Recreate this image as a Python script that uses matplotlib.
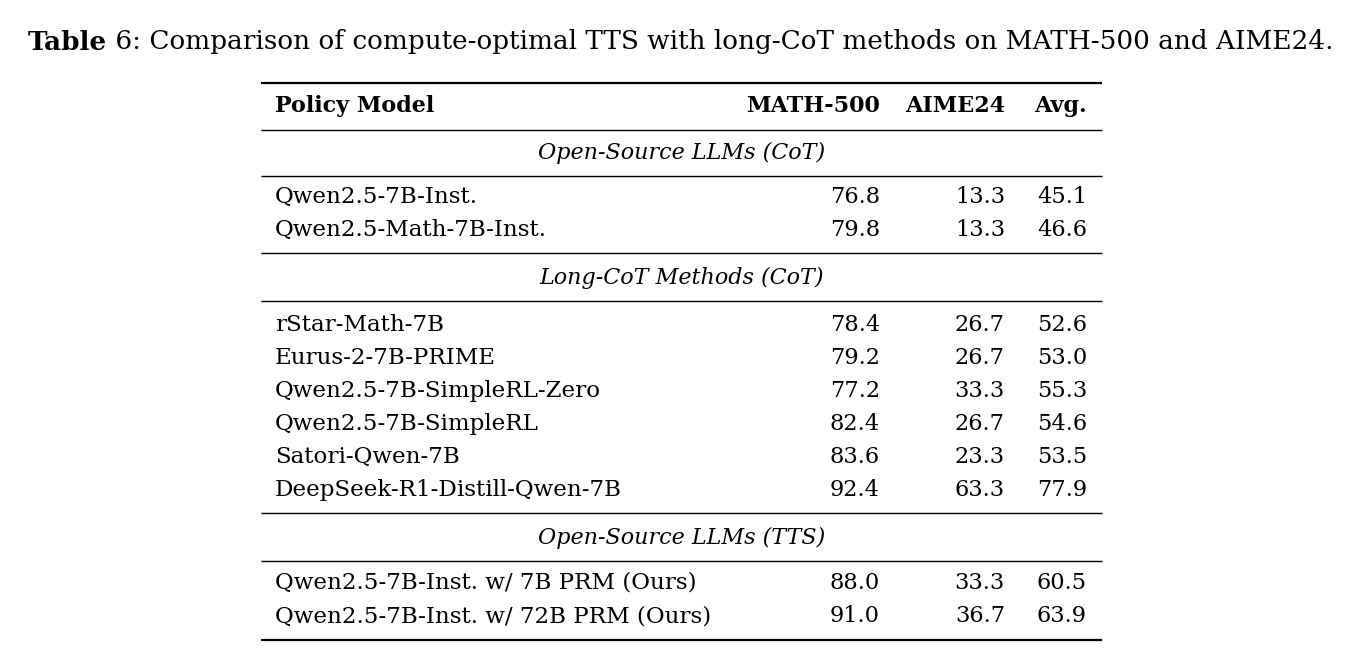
import matplotlib
matplotlib.use('Agg')
import matplotlib.pyplot as plt

# Table data
caption_bold = 'Table'
caption_rest = ' 6: Comparison of compute-optimal TTS with long-CoT methods on MATH-500 and AIME24.'
headers = ['Policy Model', 'MATH-500', 'AIME24', 'Avg.']

group_names = ['Open-Source LLMs (CoT)', 'Long-CoT Methods (CoT)', 'Open-Source LLMs (TTS)']
group_models = [
    ['Qwen2.5-7B-Inst.', 'Qwen2.5-Math-7B-Inst.'],
    ['rStar-Math-7B', 'Eurus-2-7B-PRIME', 'Qwen2.5-7B-SimpleRL-Zero',
     'Qwen2.5-7B-SimpleRL', 'Satori-Qwen-7B', 'DeepSeek-R1-Distill-Qwen-7B'],
    ['Qwen2.5-7B-Inst. w/ 7B PRM (Ours)', 'Qwen2.5-7B-Inst. w/ 72B PRM (Ours)'],
]
math500 = [[76.8, 79.8], [78.4, 79.2, 77.2, 82.4, 83.6, 92.4], [88.0, 91.0]]
aime24 = [[13.3, 13.3], [26.7, 26.7, 33.3, 26.7, 23.3, 63.3], [33.3, 36.7]]
avg = [[45.1, 46.6], [52.6, 53.0, 55.3, 54.6, 53.5, 77.9], [60.5, 63.9]]

W, H = 1369, 663
fig = plt.figure(figsize=(W / 100, H / 100), dpi=100)
ax = fig.add_axes([0, 0, 1, 1])
ax.set_xlim(0, W)
ax.set_ylim(H, 0)
ax.axis('off')

font = 'DejaVu Serif'
fs = 16.6       # model names
fs_num = 16.2   # numbers
fs_head = 16.0  # bold header
fs_grp = 16.0   # italic group labels
fs_cap = 18.9

# caption
t1 = ax.text(28, 42, caption_bold, fontsize=fs_cap, family=font, weight='bold', va='center')
fig.canvas.draw()
bb = t1.get_window_extent()
ax.text(28 + bb.width, 42, caption_rest, fontsize=fs_cap, family=font, va='center')

x0, x1 = 261, 1102
col_left = 275
col_right = [880, 1005, 1087]

def rule(y, lw):
    ax.plot([x0, x1], [y, y], color='black', lw=lw, solid_capstyle='butt')

rule(83, 1.6)
ax.text(col_left, 106, headers[0], fontsize=fs_head, family=font, weight='bold', va='center')
for h, xr in zip(headers[1:], col_right):
    ax.text(xr, 106, h, fontsize=fs_head, family=font, weight='bold', va='center', ha='right')
rule(130, 1.0)

label_y = [153, 278, 538]
rows_start = [197, 325, 583]
row_h = 33.0
for g in range(3):
    ax.text((x0 + x1) / 2, label_y[g], group_names[g], fontsize=fs_grp, family=font,
            style='italic', va='center', ha='center')
    rule(label_y[g] + 23, 1.0)
    for i, m in enumerate(group_models[g]):
        y = rows_start[g] + i * row_h
        ax.text(col_left, y, m, fontsize=fs, family=font, va='center')
        for v, xr in zip([math500[g][i], aime24[g][i], avg[g][i]], col_right):
            ax.text(xr, y, f'{v:.1f}', fontsize=fs_num, family=font, va='center', ha='right')
    last = rows_start[g] + (len(group_models[g]) - 1) * row_h
    if g < 2:
        rule(last + 23, 1.0)
rule(640, 1.6)

fig.savefig('out.png', dpi=100)
